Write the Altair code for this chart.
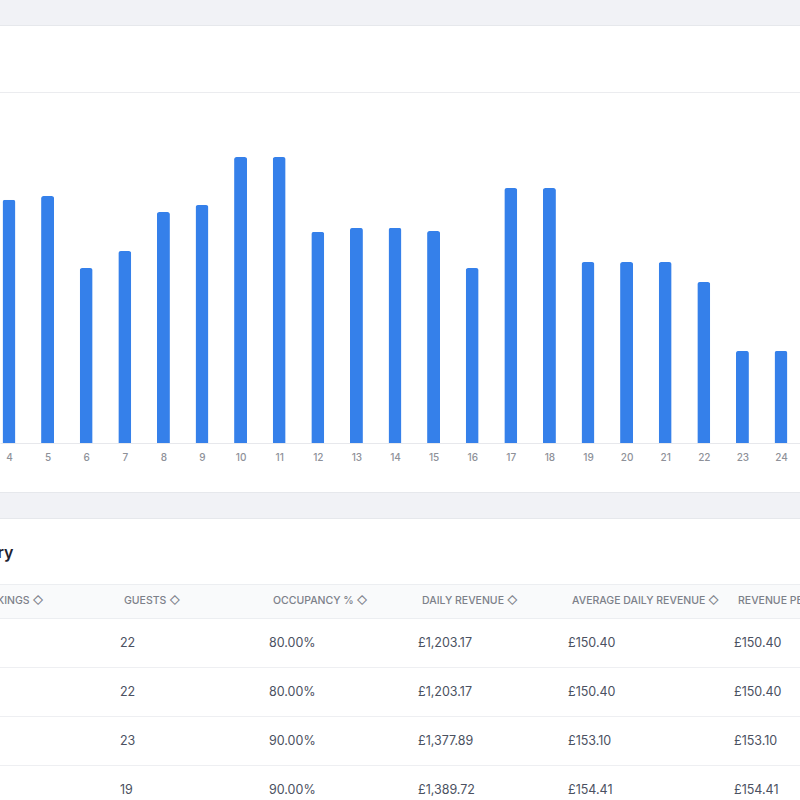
import altair as alt
import pandas as pd

# ---- data -------------------------------------------------------------
days = list(range(4, 25))
daily_takings = [1389.72, 1411.00, 1000.00, 1097.00, 1320.00, 1360.00, 1634.00,
                 1634.00, 1206.00, 1229.00, 1229.00, 1211.00, 1000.00, 1457.00,
                 1457.00, 1034.00, 1034.00, 1034.00, 920.00, 526.00, 526.00]

headers = ["Bookings", "Guests", "Occupancy %", "Daily Revenue",
           "Average Daily Revenue", "Revenue Per Available Room"]
guests = [22, 22, 23, 19]
occupancy = [80.00, 80.00, 90.00, 90.00]
daily_revenue = [1203.17, 1203.17, 1377.89, 1389.72]
avg_daily_revenue = [150.40, 150.40, 153.10, 154.41]
revpar = [150.40, 150.40, 153.10, 154.41]

# ---- page layout --------------------------------------------------------
W = 800
TOP = 93          # top of the bar plot area on the page
PLOT_H = 350      # bar plot height (baseline sits at TOP + PLOT_H)
FONT = "Inter"
BLUE = "#3580ea"
PAGE_BG = "#f1f2f6"
BORDER = "#e6e8ec"


def py(y):
    """Page y -> plot-relative y."""
    return y - TOP


# day axis: one band step of 38.6 px, day 4 centred at x = 9
STEP = 38.6
X0 = 4 - 9 / STEP
X1 = X0 + W / STEP

bars_df = pd.DataFrame({"day": days, "revenue": daily_takings})

rows = []
for i in range(len(guests)):
    r = i + 1
    rows.append({"col": 1, "row": r, "text": f"{guests[i]}"})
    rows.append({"col": 2, "row": r, "text": f"{occupancy[i]:.2f}%"})
    rows.append({"col": 3, "row": r, "text": f"£{daily_revenue[i]:,.2f}"})
    rows.append({"col": 4, "row": r, "text": f"£{avg_daily_revenue[i]:,.2f}"})
    rows.append({"col": 5, "row": r, "text": f"£{revpar[i]:,.2f}"})
cells_df = pd.DataFrame(rows)
header_df = pd.DataFrame({"col": list(range(len(headers))),
                          "text": [h.upper() + " \u25c7" for h in headers]})

one = pd.DataFrame({"k": [0]})

col_scale = alt.Scale(domain=[0, 1, 2, 3, 4, 5],
                      range=[-30, 120, 269, 418, 568, 734],
                      zero=False, nice=False)


def band(y0, y1, color):
    return alt.Chart(one).mark_rect(color=color).encode(
        x=alt.value(0), x2=alt.value(W), y=alt.value(py(y0)), y2=alt.value(py(y1)))


def hline(y, color=BORDER):
    return alt.Chart(one).mark_rule(color=color, strokeWidth=1).encode(
        x=alt.value(0), x2=alt.value(W), y=alt.value(py(y)))


decor = [
    band(0, 25, PAGE_BG), hline(25.5),
    hline(92.5, "#ebecef"),
    band(493, 518, PAGE_BG), hline(492.5), hline(518.5),
    band(584, 618, "#f9fafb"), hline(584.5, "#eceef1"), hline(618.5, "#eceef1"),
    hline(667.5, "#eeeff2"), hline(716.5, "#eeeff2"), hline(765.5, "#eeeff2"),
]

bars = alt.Chart(bars_df).mark_bar(
    size=13, color=BLUE, cornerRadiusTopLeft=2.5, cornerRadiusTopRight=2.5
).encode(
    x=alt.X("day:Q",
            scale=alt.Scale(domain=[X0, X1], nice=False, zero=False, padding=0),
            axis=alt.Axis(values=days, format="d", grid=False, ticks=False,
                          domainColor="#e7e8ec", labelColor="#8e9199",
                          labelFont=FONT, labelFontSize=10, labelFontWeight=500,
                          labelPadding=9, labelFlush=False, labelOverlap=False,
                          title=None)),
    y=alt.Y("revenue:Q", scale=alt.Scale(domain=[0, 2000], nice=False), axis=None),
)

heading = alt.Chart(one).mark_text(
    text="Summary", align="right", baseline="middle", font=FONT,
    fontSize=16, fontWeight=600, color="#1f2330"
).encode(x=alt.value(13.5), y=alt.value(py(553)))

header_text = alt.Chart(header_df).mark_text(
    align="left", baseline="middle", font=FONT, fontSize=10.5,
    fontWeight=500, color="#7c8089", dx=4
).encode(
    x=alt.X("col:Q", scale=col_scale, axis=None),
    y=alt.value(py(601)),
    text="text:N",
)

cell_text = alt.Chart(cells_df).mark_text(
    align="left", baseline="middle", font=FONT, fontSize=12.5, color="#4b5161"
).encode(
    x=alt.X("col:Q", scale=col_scale, axis=None),
    y=alt.Y("row:Q", scale=alt.Scale(domain=[1, 4], range=[py(643), py(790)],
                                     zero=False, nice=False), axis=None),
    text="text:N",
)

chart = alt.layer(*decor, bars, heading, header_text, cell_text).resolve_scale(
    x="independent", y="independent"
).properties(
    width=W, height=PLOT_H,
    padding={"top": TOP, "left": 0, "right": 0, "bottom": 800 - TOP - PLOT_H},
    autosize=alt.AutoSizeParams(type="none"),
    background="white",
).configure_view(stroke=None)

chart.save("out.html", embed_options={"renderer": "svg", "actions": False})
